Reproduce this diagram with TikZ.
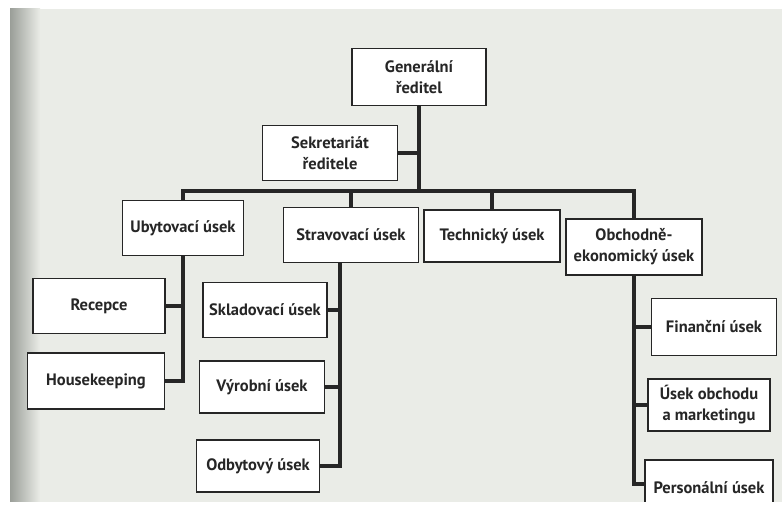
\documentclass[tikz,border=0pt]{standalone}
\usepackage{fontspec}
\setmainfont{PT Sans}
\usetikzlibrary{calc}
\definecolor{paper}{HTML}{EAECE7}
\definecolor{edge}{HTML}{9A9E98}
\definecolor{ink}{HTML}{262626}
\tikzset{
  box/.style={draw=ink, line width=1.3pt, fill=white, align=center,
    inner sep=2pt, font=\bfseries\fontsize{16.5}{21}\selectfont, text=ink},
  conn/.style={draw=ink, line width=3.4pt}
}
\begin{document}
\begin{tikzpicture}[x=1pt,y=-1pt]
\useasboundingbox (0,0) rectangle (782,508);
\clip (0,0) rectangle (782,508);
% paper
\fill[white] (0,0) rectangle (782,508);
\fill[paper] (10,9) rectangle (782,502);
\shade[left color=edge, right color=paper] (10,9) rectangle (40,502);
% nodes
\node[box, minimum width=134, minimum height=57] (gr) at (419,77) {Generální\\ředitel};
\node[box, minimum width=135, minimum height=55] (sek) at (330,153) {Sekretariát\\ředitele};
\node[box, minimum width=121, minimum height=55] (uby) at (183,228) {Ubytovací úsek};
\node[box, minimum width=135, minimum height=55] (stra) at (351,235) {Stravovací úsek};
\node[box, minimum width=136, minimum height=52] (tech) at (492,236) {Technický úsek};
\node[box, minimum width=136, minimum height=56] (obch) at (634,247) {Obchodně-\\ekonomický úsek};
\node[box, minimum width=132, minimum height=55] (rec) at (99,306) {Recepce};
\node[box, minimum width=137, minimum height=56] (house) at (96,381) {Housekeeping};
\node[box, minimum width=124, minimum height=55] (skl) at (265,310) {Skladovací úsek};
\node[box, minimum width=125, minimum height=52] (vyr) at (262,387) {Výrobní úsek};
\node[box, minimum width=123, minimum height=52] (odb) at (258,466) {Odbytový úsek};
\node[box, minimum width=125, minimum height=57] (fin) at (714,327) {Finanční úsek};
\node[box, minimum width=122, minimum height=52] (obmk) at (709,405) {Úsek obchodu\\a marketingu};
\node[box, minimum width=128, minimum height=56] (pers) at (709,488) {Personální úsek};
% connectors
\coordinate (bus) at (0,191);
\coordinate (st) at ($(stra.south)+(-11,0)$);
\coordinate (pj) at (0,484);
\draw[conn] (gr.south) -- (gr.south |- bus);
\draw[conn] (sek.east) -- (sek.east -| gr.south);
\draw[conn] (uby.north) -- (uby.north |- bus) -- (obch.north |- bus) -- (obch.north);
\draw[conn] (stra.north) -- (stra.north |- bus);
\draw[conn] (tech.north) -- (tech.north |- bus);
\draw[conn] (uby.south) -- (uby.south |- house.east) -- (house.east);
\draw[conn] (rec.east) -- (rec.east -| uby.south);
\draw[conn] (st) -- (st |- odb.east) -- (odb.east);
\draw[conn] (skl.east) -- (skl.east -| st);
\draw[conn] (vyr.east) -- (vyr.east -| st);
\draw[conn] (obch.south) -- (obch.south |- pj) -- (pers.west |- pj);
\draw[conn] (fin.west) -- (fin.west -| obch.south);
\draw[conn] (obmk.west) -- (obmk.west -| obch.south);
% end of the scanned page
\fill[white] (0,502) rectangle (782,508);
\end{tikzpicture}
\end{document}
